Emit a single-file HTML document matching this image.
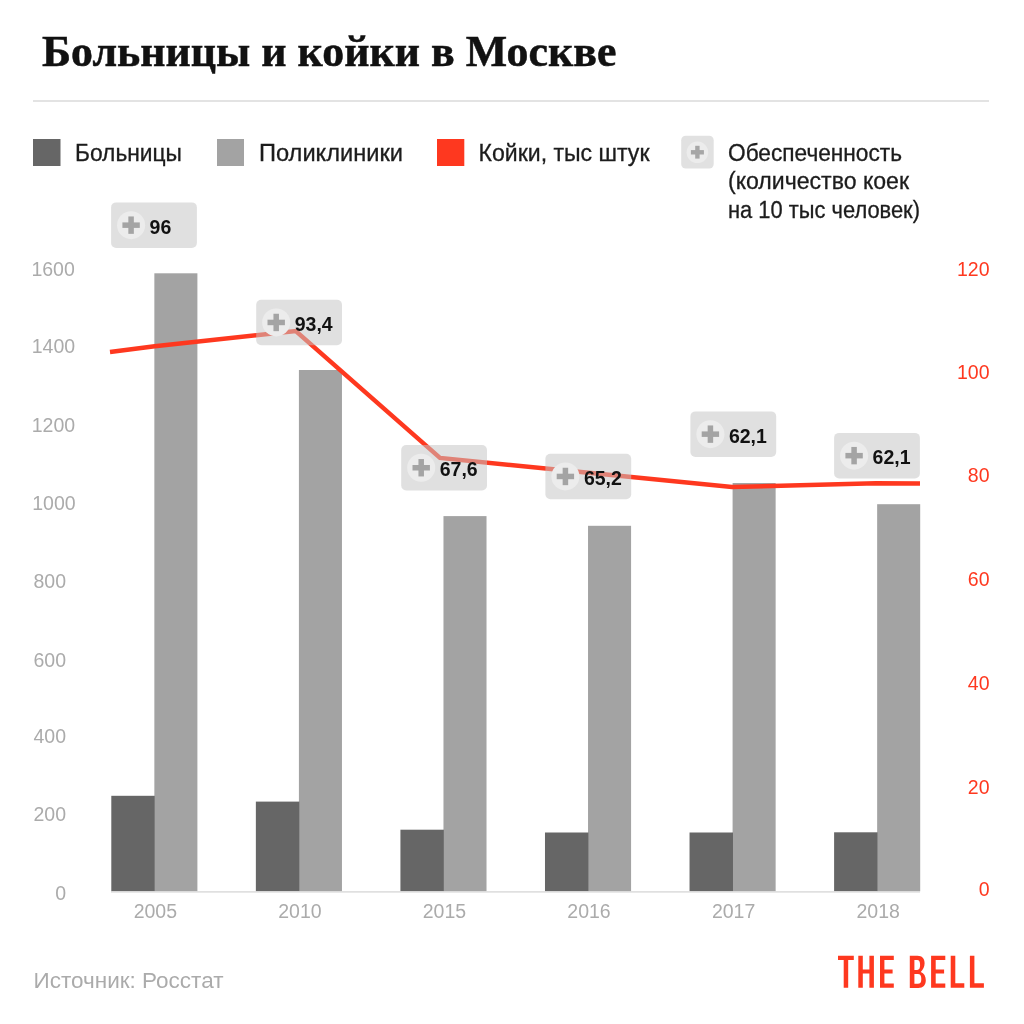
<!DOCTYPE html><html><head><meta charset="utf-8"><style>html,body{margin:0;padding:0;background:#fff;width:1024px;height:1024px;overflow:hidden}svg{display:block;will-change:transform}</style></head><body>
<svg width="1024" height="1024" viewBox="0 0 1024 1024">
<rect width="1024" height="1024" fill="#fff"/>
<text x="42" y="66" font-family="Liberation Serif" font-weight="bold" font-size="44" fill="#111" stroke="#111" stroke-width="0.5" textLength="574.5" lengthAdjust="spacingAndGlyphs">Больницы и койки в Москве</text>
<rect x="33" y="100" width="956" height="2" fill="#e3e3e3"/>
<rect x="33" y="139" width="27.5" height="27" fill="#666666"/>
<rect x="217" y="139" width="27" height="27" fill="#a3a3a3"/>
<rect x="437" y="139" width="27.3" height="27" fill="#fe381f"/>
<text x="75" y="161" font-family="Liberation Sans" font-size="23" fill="#1c1c1c" stroke="#1c1c1c" stroke-width="0.3" textLength="107" lengthAdjust="spacingAndGlyphs">Больницы</text>
<text x="259" y="161" font-family="Liberation Sans" font-size="23" fill="#1c1c1c" stroke="#1c1c1c" stroke-width="0.3" textLength="144" lengthAdjust="spacingAndGlyphs">Поликлиники</text>
<text x="478.5" y="161" font-family="Liberation Sans" font-size="23" fill="#1c1c1c" stroke="#1c1c1c" stroke-width="0.3" textLength="171" lengthAdjust="spacingAndGlyphs">Койки, тыс штук</text>
<text x="728" y="161.3" font-family="Liberation Sans" font-size="23" fill="#1c1c1c" stroke="#1c1c1c" stroke-width="0.3" textLength="174" lengthAdjust="spacingAndGlyphs">Обеспеченность</text>
<text x="728" y="188.8" font-family="Liberation Sans" font-size="23" fill="#1c1c1c" stroke="#1c1c1c" stroke-width="0.3" textLength="181" lengthAdjust="spacingAndGlyphs">(количество коек</text>
<text x="728" y="217.8" font-family="Liberation Sans" font-size="23" fill="#1c1c1c" stroke="#1c1c1c" stroke-width="0.3" textLength="192" lengthAdjust="spacingAndGlyphs">на 10 тыс человек)</text>
<rect x="681.2" y="135.8" width="32.5" height="32.8" rx="4.5" fill="#e1e1e1"/>
<circle cx="697.4" cy="152.3" r="10.8" fill="#ececec"/>
<rect x="690.9" y="150.1" width="13" height="4.4" fill="#a6a6a6"/><rect x="695.2" y="145.8" width="4.4" height="12.8" fill="#a6a6a6"/>
<text x="74.8" y="276" font-family="Liberation Sans" font-size="19.5" fill="#ababab" text-anchor="end">1600</text>
<text x="75.1" y="353.4" font-family="Liberation Sans" font-size="19.5" fill="#ababab" text-anchor="end">1400</text>
<text x="75.1" y="431.5" font-family="Liberation Sans" font-size="19.5" fill="#ababab" text-anchor="end">1200</text>
<text x="75.6" y="510" font-family="Liberation Sans" font-size="19.5" fill="#ababab" text-anchor="end">1000</text>
<text x="66" y="588" font-family="Liberation Sans" font-size="19.5" fill="#ababab" text-anchor="end">800</text>
<text x="66" y="666.5" font-family="Liberation Sans" font-size="19.5" fill="#ababab" text-anchor="end">600</text>
<text x="66" y="743.3" font-family="Liberation Sans" font-size="19.5" fill="#ababab" text-anchor="end">400</text>
<text x="66" y="820.7" font-family="Liberation Sans" font-size="19.5" fill="#ababab" text-anchor="end">200</text>
<text x="66" y="899.6" font-family="Liberation Sans" font-size="19.5" fill="#ababab" text-anchor="end">0</text>
<text x="989.5" y="275.8" font-family="Liberation Sans" font-size="19.5" fill="#fe381f" text-anchor="end">120</text>
<text x="989.5" y="378.9" font-family="Liberation Sans" font-size="19.5" fill="#fe381f" text-anchor="end">100</text>
<text x="989.5" y="482.1" font-family="Liberation Sans" font-size="19.5" fill="#fe381f" text-anchor="end">80</text>
<text x="989.5" y="586.4" font-family="Liberation Sans" font-size="19.5" fill="#fe381f" text-anchor="end">60</text>
<text x="989.5" y="689.8" font-family="Liberation Sans" font-size="19.5" fill="#fe381f" text-anchor="end">40</text>
<text x="989.5" y="793.9" font-family="Liberation Sans" font-size="19.5" fill="#fe381f" text-anchor="end">20</text>
<text x="989.5" y="896.4" font-family="Liberation Sans" font-size="19.5" fill="#fe381f" text-anchor="end">0</text>
<rect x="154.35" y="273.3" width="43.05" height="618.00" fill="#a3a3a3"/>
<rect x="111.30" y="795.8" width="43.449999999999996" height="95.50" fill="#666666"/>
<text x="155.35" y="917.6" font-family="Liberation Sans" font-size="19.5" fill="#ababab" text-anchor="middle">2005</text>
<rect x="298.91" y="370.0" width="43.05" height="521.30" fill="#a3a3a3"/>
<rect x="255.86" y="801.6" width="43.449999999999996" height="89.70" fill="#666666"/>
<text x="299.91" y="917.6" font-family="Liberation Sans" font-size="19.5" fill="#ababab" text-anchor="middle">2010</text>
<rect x="443.47" y="516.1" width="43.05" height="375.20" fill="#a3a3a3"/>
<rect x="400.42" y="829.7" width="43.449999999999996" height="61.60" fill="#666666"/>
<text x="444.47" y="917.6" font-family="Liberation Sans" font-size="19.5" fill="#ababab" text-anchor="middle">2015</text>
<rect x="588.03" y="525.8" width="43.05" height="365.50" fill="#a3a3a3"/>
<rect x="544.98" y="832.5" width="43.449999999999996" height="58.80" fill="#666666"/>
<text x="589.03" y="917.6" font-family="Liberation Sans" font-size="19.5" fill="#ababab" text-anchor="middle">2016</text>
<rect x="732.59" y="483.0" width="43.05" height="408.30" fill="#a3a3a3"/>
<rect x="689.54" y="832.5" width="43.449999999999996" height="58.80" fill="#666666"/>
<text x="733.59" y="917.6" font-family="Liberation Sans" font-size="19.5" fill="#ababab" text-anchor="middle">2017</text>
<rect x="877.15" y="504.2" width="43.05" height="387.10" fill="#a3a3a3"/>
<rect x="834.10" y="832.3" width="43.449999999999996" height="59.00" fill="#666666"/>
<text x="878.15" y="917.6" font-family="Liberation Sans" font-size="19.5" fill="#ababab" text-anchor="middle">2018</text>
<rect x="111" y="891.2" width="809" height="1.4" fill="#d9d9d9"/>
<polyline points="110,352 154.7,346.2 295.8,331 440,458 586,472.5 732,487 876,483.3 920,483.5" fill="none" stroke="#fe381f" stroke-width="4.4" stroke-linejoin="miter"/>
<rect x="111.1" y="202.4" width="85.8" height="45.5" rx="5" fill="rgb(196,196,196)" fill-opacity="0.53"/>
<circle cx="131.1" cy="225.15" r="14" fill="#ececec"/>
<rect x="122.40" y="222.40" width="17.4" height="5.5" fill="#a4a4a4"/><rect x="128.35" y="216.45" width="5.5" height="17.4" fill="#a4a4a4"/>
<text x="149.60" y="233.50" font-family="Liberation Sans" font-weight="bold" font-size="19.5" fill="#111">96</text>
<rect x="256.2" y="299.7" width="85.8" height="45.5" rx="5" fill="rgb(196,196,196)" fill-opacity="0.53"/>
<circle cx="276.2" cy="322.45" r="14" fill="#ececec"/>
<rect x="267.50" y="319.70" width="17.4" height="5.5" fill="#a4a4a4"/><rect x="273.45" y="313.75" width="5.5" height="17.4" fill="#a4a4a4"/>
<text x="294.70" y="330.80" font-family="Liberation Sans" font-weight="bold" font-size="19.5" fill="#111">93,4</text>
<rect x="401.2" y="445" width="85.8" height="45.5" rx="5" fill="rgb(196,196,196)" fill-opacity="0.53"/>
<circle cx="421.2" cy="467.75" r="14" fill="#ececec"/>
<rect x="412.50" y="465.00" width="17.4" height="5.5" fill="#a4a4a4"/><rect x="418.45" y="459.05" width="5.5" height="17.4" fill="#a4a4a4"/>
<text x="439.70" y="476.10" font-family="Liberation Sans" font-weight="bold" font-size="19.5" fill="#111">67,6</text>
<rect x="545.4" y="453.7" width="85.8" height="45.5" rx="5" fill="rgb(196,196,196)" fill-opacity="0.53"/>
<circle cx="565.4" cy="476.45" r="14" fill="#ececec"/>
<rect x="556.70" y="473.70" width="17.4" height="5.5" fill="#a4a4a4"/><rect x="562.65" y="467.75" width="5.5" height="17.4" fill="#a4a4a4"/>
<text x="583.90" y="484.80" font-family="Liberation Sans" font-weight="bold" font-size="19.5" fill="#111">65,2</text>
<rect x="690.4" y="411.4" width="85.8" height="45.5" rx="5" fill="rgb(196,196,196)" fill-opacity="0.53"/>
<circle cx="710.4" cy="434.15" r="14" fill="#ececec"/>
<rect x="701.70" y="431.40" width="17.4" height="5.5" fill="#a4a4a4"/><rect x="707.65" y="425.45" width="5.5" height="17.4" fill="#a4a4a4"/>
<text x="728.90" y="442.50" font-family="Liberation Sans" font-weight="bold" font-size="19.5" fill="#111">62,1</text>
<rect x="834.1" y="432.9" width="85.8" height="45.5" rx="5" fill="rgb(196,196,196)" fill-opacity="0.53"/>
<circle cx="854.1" cy="455.65" r="14" fill="#ececec"/>
<rect x="845.40" y="452.90" width="17.4" height="5.5" fill="#a4a4a4"/><rect x="851.35" y="446.95" width="5.5" height="17.4" fill="#a4a4a4"/>
<text x="872.60" y="464.00" font-family="Liberation Sans" font-weight="bold" font-size="19.5" fill="#111">62,1</text>
<text x="33.5" y="988.2" font-family="Liberation Sans" font-size="22.5" fill="#ababab" textLength="190" lengthAdjust="spacingAndGlyphs">Источник: Росстат</text>
<path d="M838 955.8H853.8V960.0H838ZM843.7 955.8H848.2V987.7H843.7ZM858.3 955.8H862.8V987.7H858.3ZM869.4 955.8H873.9V987.7H869.4ZM858.3 969.6H873.9V973.6H858.3ZM880 955.8H893.8V960.0999999999999H880ZM880 955.8H884.4V987.7H880ZM880 969.6H892.6V973.6H880ZM880 983.4000000000001H893.8V987.7H880ZM931.1 955.8H945.3V960.0999999999999H931.1ZM931.1 955.8H935.7V987.7H931.1ZM931.1 969.6H944.1V973.6H931.1ZM931.1 983.4000000000001H945.3V987.7H931.1ZM950.7 955.8H955.3V987.7H950.7ZM950.7 983.2H964.3V987.7H950.7ZM969.9 955.8H974.4V987.7H969.9ZM969.9 983.2H983.9V987.7H969.9Z" fill="#fe381f"/>
<path d="M909.8 955.7H917.5C922 955.7 924.6 958.4 924.6 963.2C924.6 967 923.1 969.3 920.8 971.9C924 973.2 925.8 976 925.8 980.2C925.8 985.1 923.2 987.9 918.3 987.9H909.8ZM914.4 959.9V969.9H917.2C919.2 969.9 920.1 968.2 920.1 965C920.1 961.6 919.2 959.9 917.2 959.9ZM914.4 974.1V983.7H917.8C920.3 983.7 921.3 982.2 921.3 978.9C921.3 975.7 920.3 974.1 917.8 974.1Z" fill="#fe381f" fill-rule="evenodd"/>
</svg></body></html>
